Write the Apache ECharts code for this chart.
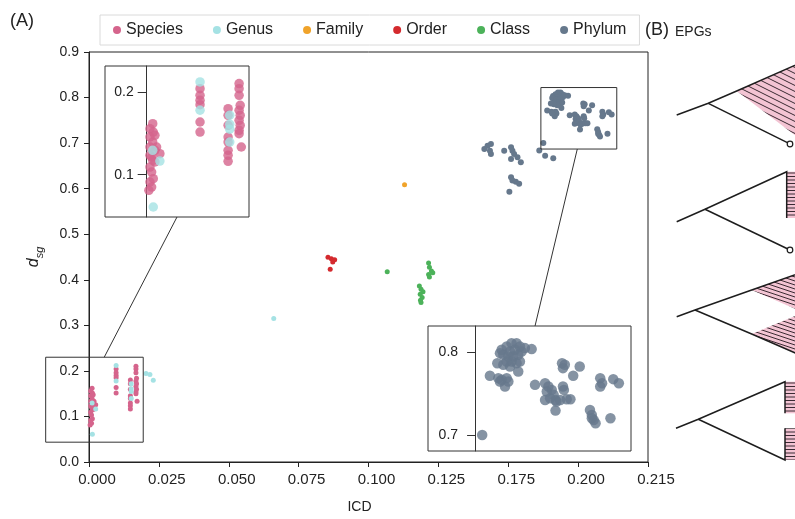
<!DOCTYPE html>
<html><head><meta charset="utf-8">
<script src="https://cdn.jsdelivr.net/npm/echarts@6/dist/echarts.min.js"></script>
<style>html,body{margin:0;padding:0;background:#fff}#c{width:795px;height:519px}</style>
</head><body><div id="c"></div>
<script>
// ---------- axis ticks (broken x axis: ticks evenly spaced) ----------
const xTickValues = [0, 0.025, 0.05, 0.075, 0.1, 0.125, 0.175, 0.2, 0.215];
const xTickLabels = ['0.000','0.025','0.050','0.075','0.100','0.125','0.175','0.200','0.215'];
const yTickLabels = ['0.0','0.1','0.2','0.3','0.4','0.5','0.6','0.7','0.8','0.9'];
const legendNames = ['Species','Genus','Family','Order','Class','Phylum'];

// ---------- data [ICD, d_sg] ----------
const speciesPts = [
 [0.0011,0.1617],[0.0006,0.1556],[0.0012,0.1516],[0.0006,0.1456],[0.0011,0.1395],[0.0006,0.1335],
 [0.0015,0.1295],[0.0018,0.1335],[0.0024,0.1254],[0.0006,0.1234],[0.0011,0.1174],[0.0015,0.1154],
 [0.0006,0.1093],[0.0009,0.1033],[0.0012,0.0952],[0.0006,0.0912],[0.0009,0.0851],[0.0004,0.0811],
 [0.0015,0.1476],[0.0009,0.1214],
 [0.0097,0.204],[0.0097,0.196],[0.0097,0.1847],[0.0097,0.1637],[0.0097,0.1516],[0.0097,0.190],
 [0.0148,0.1798],[0.0148,0.1718],[0.0148,0.1597],[0.0148,0.1456],[0.0148,0.1395],[0.0148,0.1295],
 [0.0148,0.1234],[0.0148,0.1162],
 [0.0168,0.2101],[0.0168,0.204],[0.0168,0.196],[0.0170,0.1839],[0.0168,0.1779],[0.0170,0.1718],
 [0.0168,0.1658],[0.0170,0.1597],[0.0168,0.1537],[0.0168,0.1496],[0.0172,0.1335]
];
const genusPts = [
 [0.0011,0.1295],[0.0024,0.1165],[0.0012,0.061],[0.0097,0.2121],[0.0097,0.1779],
 [0.0151,0.172],[0.0151,0.161],[0.0151,0.155],[0.0151,0.1395],
 [0.0204,0.1941],[0.0218,0.1920],[0.0230,0.1797],[0.0661,0.315]
];
const familyPts = [[0.1129,0.6087]];
const orderPts = [[0.0855,0.4493],[0.0867,0.4463],[0.0879,0.4441],[0.0872,0.4391],[0.0863,0.4233]];
const classPts = [
 [0.1067,0.4174],[0.1215,0.437],[0.1218,0.4276],[0.1225,0.419],[0.1215,0.4116],[0.1230,0.4152],
 [0.1218,0.406],[0.1182,0.3863],[0.1188,0.379],[0.1195,0.3739],[0.1185,0.368],[0.1192,0.3609],
 [0.1186,0.355],[0.1188,0.350]
];
const phylumPts = [
 [0.1579,0.687],[0.1602,0.694],[0.1626,0.698],[0.1619,0.683],[0.1626,0.676],
 [0.1721,0.683],[0.1760,0.691],[0.1765,0.683],[0.1771,0.676],[0.1760,0.665],[0.1783,0.669],[0.1795,0.658],
 [0.1760,0.625],[0.1765,0.618],[0.1777,0.615],[0.1789,0.611],[0.1754,0.593],
 [0.1861,0.684],[0.1882,0.672],[0.1911,0.667],
 [0.19103,0.8033],[0.19193,0.8073],[0.1928,0.8113],[0.1937,0.8113],[0.1943,0.8073],[0.1934,0.8033],
 [0.19253,0.8013],[0.19133,0.7972],[0.19073,0.7992],[0.19223,0.7952],[0.1931,0.7952],[0.1940,0.7972],
 [0.1946,0.8013],[0.1952,0.8053],[0.1964,0.8041],[0.19193,0.7892],[0.1928,0.7892],[0.1937,0.7871],
 [0.1943,0.7892],[0.1940,0.7770],[0.19253,0.7831],[0.19133,0.7851],[0.19025,0.7871],
 [0.18893,0.7718],[0.19043,0.7690],[0.19103,0.7670],[0.19193,0.7690],[0.19223,0.7649],[0.19163,0.7589],[0.19073,0.7649],
 [0.1970,0.7609],[0.1988,0.7629],[0.1994,0.7589],[0.1991,0.7528],[0.2000,0.7548],[0.1988,0.7427],
 [0.1997,0.7448],[0.2004,0.7427],[0.2002,0.7488],[0.2005,0.7407],[0.2009,0.7427],[0.2016,0.7436],
 [0.2020,0.7436],[0.2004,0.7298],[0.2012,0.7589],[0.2013,0.7548],
 [0.2011,0.7871],[0.2014,0.7851],[0.2012,0.7811],[0.2030,0.7831],[0.2023,0.7718],
 [0.2052,0.7690],[0.2054,0.7629],[0.2052,0.7589],[0.2066,0.7678],[0.2072,0.7629],
 [0.2041,0.7306],[0.2043,0.7246],[0.2045,0.7185],[0.2047,0.7145],[0.2043,0.7205],[0.2063,0.7205],
 [0.18755,0.7004]
];

// ---------- styles ----------
const FONT = '"Liberation Sans", Arial, Helvetica, sans-serif';
const TXT = '#222';
const colors = {Species:'#d5648c', Genus:'#a5e2e4', Family:'#f0a32a', Order:'#d42a2e', Class:'#4cb25a', Phylum:'#66788c'};
const PINK = '#f3c4d3';

// broken axis scale: ICD value -> tick-index position
function toAxis(x){
  const v = xTickValues; let i = 0;
  while (i < v.length - 2 && x > v[i+1]) i++;
  return i + (x - v[i]) / (v[i+1] - v[i]);
}
const mapPts = pts => pts.map(p => [toAxis(p[0]), p[1]]);

// zoom windows (axis units)
const box1 = {x0:-0.62, x1:0.776, y0:0.0435, y1:0.23};
const box2 = {x0:6.467, x1:7.553, y0:0.687, y1:0.822};
const inset1Range = {x0:-0.303, x1:0.744, y0:0.0489, y1:0.2314, axisAt:0};
const inset2Range = {x0:6.114, x1:7.567, y0:0.681, y1:0.832, axisAt:6.451};
const inBox = (b) => p => p[0]>=b.x0 && p[0]<=b.x1 && p[1]>=b.y0 && p[1]<=b.y1;

const allGroups = {Species:speciesPts, Genus:genusPts, Family:familyPts, Order:orderPts, Class:classPts, Phylum:phylumPts};

const series = [];
legendNames.forEach(n => {
  series.push({type:'scatter', name:n, xAxisIndex:0, yAxisIndex:0, data:mapPts(allGroups[n]),
    symbolSize: n==='Phylum'?6:5, itemStyle:{color:colors[n], opacity:1}});
});
['Species','Genus'].forEach(n => {
  series.push({type:'scatter', name:n, xAxisIndex:1, yAxisIndex:1,
    data:mapPts(allGroups[n]).filter(inBox(box1)), symbolSize:9.5, itemStyle:{color:colors[n]}});
});
series.push({type:'scatter', name:'Phylum', xAxisIndex:2, yAxisIndex:2,
  data:mapPts(phylumPts).filter(inBox(box2)), symbolSize:10.5, itemStyle:{color:colors.Phylum}});

const inset1Grid = {left:105, top:66, width:144, height:151};
const inset2Grid = {left:428, top:326, width:203, height:125};
const offsetOf = (r, gr) => -(r.axisAt - r.x0)/(r.x1 - r.x0)*gr.width;

const hiddenAxis = {axisLine:{show:false}, axisTick:{show:false}, axisLabel:{show:false}, splitLine:{show:false}};

const chart = echarts.init(document.getElementById('c'));
chart.setOption({
  animation:false,
  textStyle:{fontFamily:FONT, color:TXT},
  legend:{data:legendNames, left:100, top:15, icon:'circle', itemWidth:8, itemHeight:8, itemGap:30,
    padding:[7,13,7,13], borderColor:'#dadada', borderWidth:1,
    textStyle:{fontSize:16, color:TXT, fontFamily:FONT}, selectedMode:false},
  grid:[
    {left:89, top:52, right:147, bottom:53, show:true, borderColor:'#222', borderWidth:1, backgroundColor:'transparent'},
    Object.assign({show:true, borderColor:'#333', borderWidth:1, backgroundColor:'#fff'}, inset1Grid),
    Object.assign({show:true, borderColor:'#333', borderWidth:1, backgroundColor:'#fff'}, inset2Grid)
  ],
  xAxis:[
    {type:'value', gridIndex:0, min:0, max:xTickValues.length-1, interval:1,
      name:'ICD', nameLocation:'middle', nameGap:38,
      nameTextStyle:{fontSize:14, color:TXT, padding:[0,18,0,0]},
      axisLine:{lineStyle:{color:'#222', width:1}}, axisTick:{length:5, lineStyle:{color:'#222'}},
      axisLabel:{fontSize:15, color:TXT, margin:10, padding:[0,0,0,16], formatter:v => xTickLabels[Math.round(v)]},
      splitLine:{show:false}},
    Object.assign({type:'value', gridIndex:1, min:inset1Range.x0, max:inset1Range.x1}, hiddenAxis),
    Object.assign({type:'value', gridIndex:2, min:inset2Range.x0, max:inset2Range.x1}, hiddenAxis)
  ],
  yAxis:[
    {type:'value', gridIndex:0, min:0, max:0.9, interval:0.1,
      name:'{d|d}{s|sg}', nameLocation:'middle', nameGap:44, nameRotate:90,
      nameTextStyle:{rich:{
        d:{fontSize:16, fontStyle:'italic', fontFamily:FONT, color:TXT, lineHeight:19, verticalAlign:'top'},
        s:{fontSize:11, fontStyle:'italic', fontFamily:FONT, color:TXT, lineHeight:11, verticalAlign:'bottom'}}},
      axisLine:{lineStyle:{color:'#222', width:1}}, axisTick:{length:5, lineStyle:{color:'#222'}},
      axisLabel:{fontSize:14, color:TXT, margin:10, formatter:v => yTickLabels[Math.round(v*10)]},
      splitLine:{show:false}},
    {type:'value', gridIndex:1, min:inset1Range.y0, max:inset1Range.y1, offset:offsetOf(inset1Range, inset1Grid),
      axisLine:{onZero:false, lineStyle:{color:'#333'}},
      axisTick:{length:9, customValues:[0.1,0.2], lineStyle:{color:'#333'}},
      axisLabel:{fontSize:14, color:TXT, margin:13, customValues:[0.1,0.2], formatter:v => v.toFixed(1)},
      splitLine:{show:false}},
    {type:'value', gridIndex:2, min:inset2Range.y0, max:inset2Range.y1, offset:offsetOf(inset2Range, inset2Grid),
      axisLine:{onZero:false, lineStyle:{color:'#333'}},
      axisTick:{length:8, customValues:[0.7,0.8], lineStyle:{color:'#333'}},
      axisLabel:{fontSize:14, color:TXT, margin:17, customValues:[0.7,0.8], formatter:v => v.toFixed(1)},
      splitLine:{show:false}}
  ],
  series: series
});

// ---------- annotations: zoom boxes and connector lines ----------
const P0 = (x,y) => chart.convertToPixel({xAxisIndex:0, yAxisIndex:0}, [x,y]);
const P1 = (x,y) => chart.convertToPixel({xAxisIndex:1, yAxisIndex:1}, [x,y]);
const P2 = (x,y) => chart.convertToPixel({xAxisIndex:2, yAxisIndex:2}, [x,y]);
function rectOf(b){ const a=P0(b.x0,b.y1), c=P0(b.x1,b.y0); return {x:a[0], y:a[1], width:c[0]-a[0], height:c[1]-a[1]}; }
const lineStyle = {stroke:'#333', lineWidth:1, fill:null};
const g = [];
g.push({type:'rect', shape:rectOf(box1), style:lineStyle, z:50});
g.push({type:'rect', shape:rectOf(box2), style:lineStyle, z:50});
const l1a = P0(0.218, box1.y1), l1b = P1(0.2205, inset1Range.y0);
g.push({type:'line', shape:{x1:l1a[0], y1:l1a[1], x2:l1b[0], y2:l1b[1]}, style:lineStyle, z:50});
const l2a = P0(6.988, box2.y0), l2b = P2(6.88, inset2Range.y1);
g.push({type:'line', shape:{x1:l2a[0], y1:l2a[1], x2:l2b[0], y2:l2b[1]}, style:lineStyle, z:50});

// panel labels
g.push({type:'text', left:10, top:12, style:{text:'(A)', font:'18px '+FONT, fill:TXT}});
g.push({type:'text', left:645, top:21, style:{text:'(B)', font:'18px '+FONT, fill:TXT}});
g.push({type:'text', left:675, top:25, style:{text:'EPGs', font:'14px '+FONT, fill:TXT}});

// ---------- panel B illustrations ----------
function tile(w,h,draw){ const c=document.createElement('canvas'); c.width=w; c.height=h; const x=c.getContext('2d');
  x.fillStyle=PINK; x.fillRect(0,0,w,h); x.strokeStyle='#3a2a32'; x.lineWidth=1; draw(x,w,h); return c; }
const diag = (w,h) => tile(w,h,(x)=>{ x.beginPath(); [[-h,0],[0,h],[h,2*h]].forEach(([a,b])=>{x.moveTo(0,a);x.lineTo(w,b);}); x.stroke(); });
const hatchA = diag(12,6), hatchB = diag(12,4);
const hatchH = tile(4,7,(x)=>{ x.beginPath(); x.moveTo(0,1.5); x.lineTo(4,1.5); x.moveTo(0,5); x.lineTo(4,5); x.stroke(); });
const pat = c => ({image:c, repeat:'repeat'});
const ink = {stroke:'#1d1d1d', lineWidth:1.5, fill:null};
const poly = (pts) => ({type:'polyline', shape:{points:pts}, style:ink, z:60});
const tri = (pts, c) => ({type:'polygon', shape:{points:pts}, style:{fill:pat(c), stroke:null}, z:55});
const hrect = (x,y,w,h) => ({type:'rect', shape:{x,y,width:w,height:h}, style:{fill:pat(hatchH), stroke:null}, z:55});
const circ = (x,y) => ({type:'circle', shape:{cx:x, cy:y, r:2.8}, style:{fill:'#fff', stroke:'#1d1d1d', lineWidth:1.2}, z:61});

// tree 1
g.push(tri([[736.7,91],[800,63],[800,139]], hatchA));
g.push(poly([[676.7,115],[708.3,103.3],[736.7,91],[800,63]]));
g.push(poly([[708.3,103.3],[787.4,142.6]]));
g.push(circ(790,144));
// tree 2
g.push(hrect(786.7,171.7,14,46.3));
g.push(poly([[676.7,221.7],[705,209.3],[786.7,171.7],[786.7,218]]));
g.push(poly([[705,209.3],[787.4,248.7]]));
g.push(circ(790,250));
// tree 3
g.push(tri([[751.7,290],[800,273],[800,311]], hatchB));
g.push(tri([[751.7,334],[800,314],[800,355]], hatchB));
g.push(poly([[676.7,316.7],[695,310],[751.7,290],[800,273]]));
g.push(poly([[695,310],[751.7,334],[800,355]]));
// tree 4
g.push(hrect(785,381.7,15,31.6));
g.push(hrect(785,428.3,15,31.7));
g.push(poly([[676,428.3],[698.3,419.3],[785,381.7],[785,413.3]]));
g.push(poly([[698.3,419.3],[785,460],[785,428.3]]));

chart.setOption({graphic:g});
</script></body></html>
